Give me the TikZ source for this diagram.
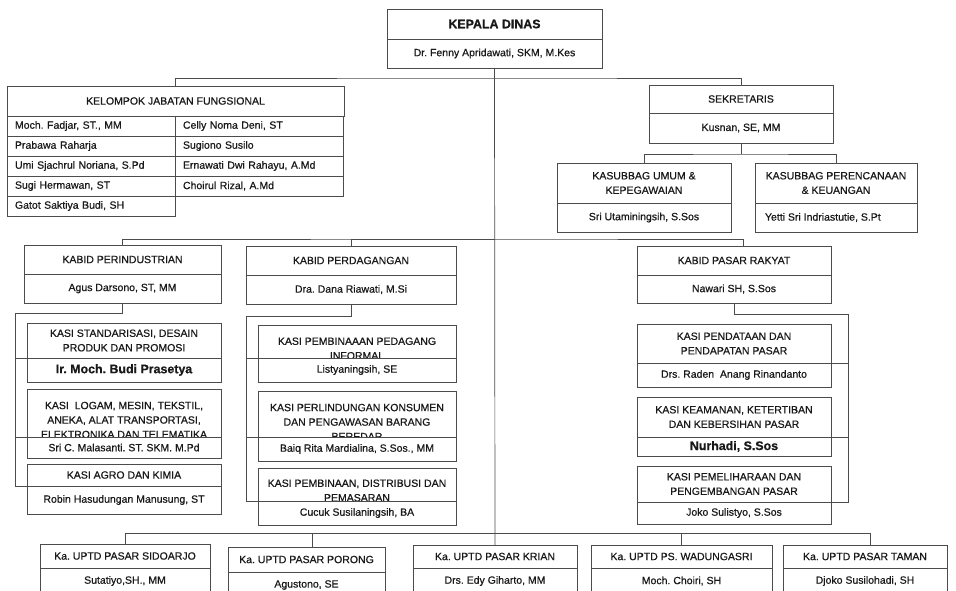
\documentclass[tikz,border=0pt]{standalone}
\usepackage{fontspec}
\setmainfont[FakeBold=0.6]{Liberation Sans}
\frenchspacing
\newcommand{\Std}{\fontsize{10.5}{14.5}\selectfont}
\newcommand{\BigBold}[1]{{\fontsize{12.4}{14.5}\selectfont\bfseries #1}}
\tikzset{
  cell/.style={draw=black!70, fill=white, line width=0.7pt, inner sep=0pt, outer sep=0pt, anchor=north west, text=black!90, font=\Std},
  headtext/.style={inner sep=0pt, align=center, text=black!90, font=\Std},
  member/.style={cell, minimum height=20pt, text width=152pt, inner xsep=8pt, align=left},
  link/.style={draw=black!70, line width=0.7pt},
}
\newcommand{\Unit}[9][0]{%
  \node[cell, minimum width=#5pt, minimum height=#6pt] (#2Head) at (#3,#4) {};
  \node[headtext] (#2Text) at ([yshift=-#1pt]#2Head.center) {#8};
  \node[cell, minimum width=#5pt, minimum height=#7pt, anchor=north] (#2) at (#2Head.south) {#9};
}

\begin{document}
\begin{tikzpicture}[x=1pt, y=-1pt]
\useasboundingbox (0,0) rectangle (956,591);
\clip (0,0) rectangle (956,591);
\Unit{KepalaDinas}{387}{9}{215}{30}{29}{\BigBold{KEPALA DINAS}}{Dr. Fenny Apridawati, SKM, M.Kes}
\node[cell, minimum width=337pt, minimum height=30pt] (Fungsional) at (7,86) {KELOMPOK JABATAN FUNGSIONAL};
\foreach \a/\b [count=\i from 0] in {{Moch. Fadjar, ST., MM}/{Celly Noma Deni, ST},{Prabawa Raharja}/{Sugiono Susilo},{Umi Sjachrul Noriana, S.Pd}/{Ernawati Dwi Rahayu, A.Md},{Sugi Hermawan, ST}/{Choirul Rizal, A.Md}} {
  \node[member] (AnggotaL\i) at (7,{116+20*\i}) {\a};
  \node[member] (AnggotaR\i) at (175,{116+20*\i}) {\b};
}
\node[member] (AnggotaL4) at (7,196) {Gatot Saktiya Budi, SH};
\Unit{Sekretaris}{649}{85}{184}{28}{30}{SEKRETARIS}{Kusnan, SE, MM}
\Unit{Umum}{557}{163}{174}{40}{29}{KASUBBAG UMUM \&\\KEPEGAWAIAN}{Sri Utaminingsih, S.Sos}
\Unit{Rencana}{755}{163}{162}{40}{29}{KASUBBAG PERENCANAAN\\\& KEUANGAN}{\makebox[142pt][l]{Yetti Sri Indriastutie, S.Pt}}
\Unit{Industri}{24}{245}{197}{29}{29}{KABID PERINDUSTRIAN}{Agus Darsono, ST, MM}
\Unit{Dagang}{246}{246}{210}{29}{29}{KABID PERDAGANGAN}{Dra. Dana Riawati, M.Si}
\Unit{Pasar}{637}{246}{194}{29}{28}{KABID PASAR RAKYAT}{Nawari SH, S.Sos}
\Unit{Standar}{27}{323}{194}{35}{24}{KASI STANDARISASI, DESAIN\\PRODUK DAN PROMOSI}{\BigBold{Ir. Moch. Budi Prasetya}}
\Unit[7]{Logam}{27}{389}{194}{48}{21}{KASI~~LOGAM, MESIN, TEKSTIL,\\ANEKA, ALAT TRANSPORTASI,\\ELEKTRONIKA DAN TELEMATIKA}{Sri C. Malasanti. ST. SKM. M.Pd}
\Unit{Agro}{27}{464}{194}{22}{28}{KASI AGRO DAN KIMIA}{Robin Hasudungan Manusung, ST}
\Unit[7]{Informal}{258}{325}{198}{33}{24}{KASI PEMBINAAAN PEDAGANG\\INFORMAL}{Listyaningsih, SE}
\Unit[8]{Konsumen}{258}{391}{198}{46}{24}{KASI PERLINDUNGAN KONSUMEN\\DAN PENGAWASAN BARANG\\BEREDAR}{Baiq Rita Mardialina, S.Sos., MM}
\Unit[6]{Distribusi}{258}{468}{198}{33}{24}{KASI PEMBINAAN, DISTRIBUSI DAN\\PEMASARAN}{Cucuk Susilaningsih, BA}
\Unit{Pendataan}{637}{324}{194}{39}{24}{KASI PENDATAAN DAN\\PENDAPATAN PASAR}{Drs. Raden~~Anang Rinandanto}
\Unit{Keamanan}{637}{397}{194}{40}{19}{KASI KEAMANAN, KETERTIBAN\\DAN KEBERSIHAN PASAR}{\BigBold{Nurhadi, S.Sos}}
\Unit{Pelihara}{637}{466}{194}{36}{22}{KASI PEMELIHARAAN DAN\\PENGEMBANGAN PASAR}{Joko Sulistyo, S.Sos}
\Unit{UptdSidoarjo}{40}{544}{170}{24}{26}{Ka. UPTD PASAR SIDOARJO}{Sutatiyo,SH., MM}
\Unit{UptdPorong}{228}{547}{157}{25}{26}{Ka. UPTD PASAR PORONG}{Agustono, SE}
\Unit{UptdKrian}{413}{545}{164}{23}{26}{Ka. UPTD PASAR KRIAN}{Drs. Edy Giharto, MM}
\Unit{UptdWadungasri}{591}{545}{181}{23}{26}{Ka. UPTD PS. WADUNGASRI}{Moch. Choiri, SH}
\Unit{UptdTaman}{783}{545}{164}{23}{26}{Ka. UPTD PASAR TAMAN}{Djoko Susilohadi, SH}

\coordinate (TopBus) at (495,78);
\draw[link] (KepalaDinas.south) -- (UptdKrianHead.north);
\draw[link] (Fungsional.north) |- (TopBus) -| (SekretarisHead.north);
\coordinate (SekBus) at ([yshift=-11pt]Sekretaris.south);
\draw[link] (Sekretaris.south) -- (SekBus);
\draw[link] (UmumHead.north) |- (SekBus) -| (RencanaHead.north);
\coordinate (KabidBus) at (495,239);
\draw[link] (IndustriHead.north) |- (KabidBus) -| ([xshift=9pt]PasarHead.north);
\draw[link] (DagangHead.north) |- (KabidBus);
\coordinate (IndustriBr) at (15,313);
\draw[link] (Industri.south) |- (IndustriBr) |- (Agro.north west);
\foreach \k in {Standar,Logam} \draw[link] (IndustriBr |- \k.north west) -- (\k.north west);
\coordinate (DagangBr) at (246,316);
\draw[link] (Dagang.south) |- (DagangBr) |- (Distribusi.north west);
\foreach \k in {Informal,Konsumen} \draw[link] (DagangBr |- \k.north west) -- (\k.north west);
\coordinate (PasarBr) at (848,314);
\draw[link] (Pasar.south) |- (PasarBr) |- (Pelihara.north east);
\foreach \k in {Pendataan,Keamanan} \draw[link] (PasarBr |- \k.north east) -- (\k.north east);
\coordinate (UptdBus) at (495,533);
\draw[link] (UptdSidoarjoHead.north) |- (UptdBus) -| ([xshift=5pt]UptdTamanHead.north);
\draw[link] ([xshift=6pt]UptdPorongHead.north) |- (UptdBus);
\draw[link] (UptdWadungasriHead.north) |- (UptdBus);
\end{tikzpicture}
\end{document}
